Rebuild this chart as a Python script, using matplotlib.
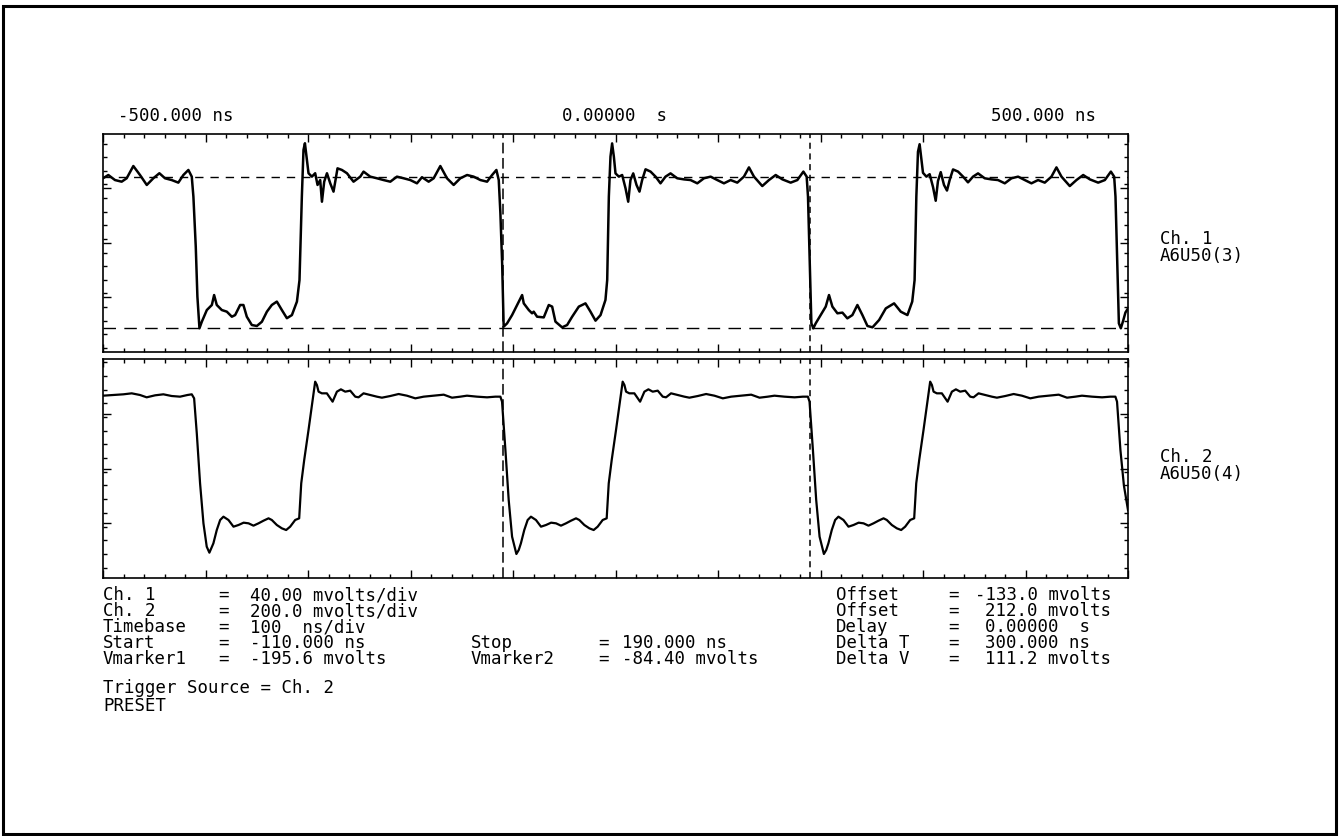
import matplotlib
matplotlib.use("Agg")
import matplotlib.pyplot as plt
from matplotlib.patches import Rectangle
from matplotlib.ticker import MultipleLocator

# ---------------- data ----------------
# Time axis (ns)
t_min, t_max = -500.0, 500.0
top_labels = ["-500.000 ns", "0.00000  s", "500.000 ns"]

# Channel 1 (mV) : 40 mV/div, offset -133 mV, 4 div shown
ch1_center, ch1_div = -133.0, 40.0
ch1_t = [-500.0, -494.8, -488.3, -481.8, -476.9, -470.4, -463.9, -457.3, -450.9, -445.0,
         -439.5, -433.0, -426.5, -421.6, -416.7, -413.4, -411.8, -409.5, -407.9, -405.9,
         -403.6, -398.7, -393.8, -391.6, -389.0, -384.1, -379.2, -374.3, -371.1, -366.2,
         -363.0, -359.7, -354.8, -349.9, -345.0, -340.1, -335.3, -330.4, -325.5, -320.6,
         -315.7, -310.8, -308.3, -306.0, -304.4, -303.0, -301.1, -299.5, -296.2, -293.0,
         -290.7, -288.1, -286.4, -284.2, -281.5, -278.3, -275.1, -271.2, -266.9, -262.0,
         -255.6, -249.0, -245.8, -239.3, -232.7, -226.3, -219.7, -213.2, -206.7, -200.2,
         -193.7, -188.8, -182.3, -177.4, -170.9, -164.4, -157.9, -151.4, -144.8, -138.4,
         -131.8, -125.3, -120.4, -116.2, -113.9, -112.3, -110.6, -109.1,
         -105.8, -100.9, -96.0, -91.1, -89.5, -84.6, -81.4, -79.8, -76.5, -70.0,
         -65.1, -61.8, -58.6, -52.1, -47.2, -42.3, -35.8, -29.3, -24.4, -19.5,
         -14.6, -9.8, -8.1, -6.5, -4.9, -3.3, -1.6, 0.0, 3.3, 6.5,
         9.8, 12.4, 14.6, 17.3, 20.5, 23.4, 26.0, 29.3, 34.2, 39.1,
         43.9, 48.8, 53.7, 60.2, 66.7, 73.2, 79.8, 86.3, 92.8, 99.3,
         105.8, 112.3, 118.8, 125.3, 130.2, 135.1, 143.2, 149.7, 156.3, 162.8,
         170.9, 177.4, 183.3, 186.5, 187.8, 189.5, 191.1, 193.0, 195.3, 200.2,
         205.1, 208.3, 211.6, 216.5, 221.4, 226.2, 231.1, 236.0, 240.9, 245.8,
         250.7, 257.2, 263.7, 271.8, 278.3, 284.8, 289.5, 291.8, 293.5, 295.1,
         296.7, 298.4, 300.0, 303.3, 306.5, 309.8, 312.4, 314.6, 317.3, 320.5,
         323.4, 326.0, 329.3, 334.2, 339.1, 343.9, 348.8, 353.7, 360.2, 366.7,
         373.2, 379.8, 386.3, 392.8, 399.3, 405.8, 412.3, 418.8, 425.3, 430.2,
         435.1, 443.2, 449.7, 456.3, 462.8, 470.9, 477.4, 483.3, 486.5, 487.8,
         489.5, 491.1, 493.0, 495.3, 497.5, 500.0]
ch1_v = [-85.5, -83.1, -86.8, -88.0, -85.5, -76.5, -83.1, -90.4, -85.5, -81.8,
         -85.5, -86.8, -88.7, -83.1, -79.4, -84.3, -99.0, -135.7, -172.4, -195.6,
         -190.8, -182.2, -178.5, -171.2, -178.5, -182.2, -183.4, -187.1, -185.9, -178.5,
         -178.5, -187.1, -193.2, -193.9, -190.8, -183.4, -178.5, -176.0, -182.2, -188.2,
         -185.9, -176.0, -160.2, -99.0, -64.7, -59.8, -72.1, -81.8, -84.3, -81.8,
         -90.4, -86.8, -102.7, -88.0, -81.8, -89.2, -95.3, -78.2, -79.4, -81.8,
         -88.0, -84.3, -80.6, -84.3, -85.5, -86.8, -88.0, -84.3, -85.5, -86.8,
         -89.2, -84.7, -88.0, -85.5, -76.5, -85.5, -90.4, -85.5, -83.1, -84.3,
         -86.8, -88.0, -83.1, -79.4, -86.8, -111.2, -147.9, -194.4,
         -192.0, -185.9, -178.5, -171.2, -177.3, -182.2, -184.6, -183.4, -187.1, -187.6,
         -178.5, -179.7, -190.7, -194.9, -193.2, -187.1, -179.7, -177.3, -183.4, -190.0,
         -185.9, -174.8, -160.2, -99.0, -69.6, -59.9, -69.6, -81.9, -84.3, -83.1,
         -92.9, -102.7, -86.8, -81.9, -90.4, -95.3, -86.8, -78.9, -80.6, -84.3,
         -89.2, -84.3, -81.9, -85.5, -86.3, -86.8, -89.2, -85.5, -84.3, -86.8,
         -89.2, -86.8, -88.7, -84.3, -77.5, -84.3, -91.2, -86.8, -83.1, -86.3,
         -88.7, -86.8, -80.6, -84.3, -99.0, -147.9, -192.0, -195.6, -192.0, -185.9,
         -179.7, -171.2, -179.7, -184.6, -184.1, -188.3, -185.9, -178.5, -185.9, -193.9,
         -194.9, -189.5, -181.0, -177.3, -183.4, -185.9, -176.0, -160.2, -99.0, -66.0,
         -60.5, -71.0, -81.5, -84.3, -82.5, -92.0, -102.0, -87.5, -81.0, -90.4,
         -94.5, -86.8, -79.0, -80.6, -84.3, -88.5, -84.3, -81.9, -85.5, -86.3,
         -86.8, -89.2, -85.5, -84.3, -86.8, -89.2, -86.8, -88.7, -84.3, -77.5,
         -84.3, -91.2, -86.8, -83.1, -86.3, -88.7, -86.8, -80.6, -84.3, -99.0,
         -147.9, -192.0, -195.6, -190.0, -184.0, -181.0]

# Channel 2 (mV) : 200 mV/div, offset 212 mV, 4 div shown
ch2_center, ch2_div = 212.0, 200.0
ch2_t = [-500.0, -490.0, -480.1, -472.0, -463.9, -457.4, -449.2, -441.1, -433.0, -424.8,
         -417.6, -413.4, -411.1, -408.5, -405.3, -402.0, -398.8, -396.2, -392.3, -389.0,
         -385.7, -382.5, -377.6, -372.7, -367.8, -362.8, -358.0, -353.2, -348.3, -343.4,
         -338.5, -335.3, -330.4, -325.5, -321.3, -317.4, -312.5, -308.6, -306.6, -303.7,
         -299.5, -294.6, -293.0, -291.3, -289.7, -286.5, -281.6, -276.0, -271.8, -267.9,
         -263.7, -258.8, -253.9, -250.7, -245.8, -239.3, -232.8, -227.9, -219.7, -211.6,
         -203.5, -195.3, -187.2, -177.4, -167.6, -159.5, -151.4, -144.9, -135.1, -125.3,
         -117.2, -112.3, -110.7, -107.4, -104.2, -100.9, -96.7, -94.4,
         -92.3, -89.0, -85.7, -82.5, -77.6, -72.7, -67.8, -62.8, -58.0, -53.2,
         -48.3, -43.4, -38.5, -35.3, -30.4, -25.5, -21.3, -17.4, -12.5, -8.6,
         -6.6, -3.7, 0.5, 5.4, 7.0, 8.7, 10.3, 13.5, 18.4, 24.0,
         28.2, 32.1, 36.3, 41.2, 46.1, 49.3, 54.2, 60.7, 67.2, 72.1,
         80.3, 88.4, 96.5, 104.7, 112.8, 122.6, 132.4, 140.5, 148.6, 155.1,
         164.9, 174.7, 182.8, 187.7, 189.3, 192.6, 195.8, 199.1, 203.3, 205.6,
         207.7, 211.0, 214.3, 217.5, 222.4, 227.3, 232.2, 237.2, 242.0, 246.8,
         251.7, 256.6, 261.5, 264.7, 269.6, 274.5, 278.7, 282.6, 287.5, 291.4,
         293.4, 296.3, 300.5, 305.4, 307.0, 308.7, 310.3, 313.5, 318.4, 324.0,
         328.2, 332.1, 336.3, 341.2, 346.1, 349.3, 354.2, 360.7, 367.2, 372.1,
         380.3, 388.4, 396.5, 404.7, 412.8, 422.6, 432.4, 440.5, 448.6, 455.1,
         464.9, 474.7, 482.8, 487.7, 489.3, 492.6, 496.0, 500.0]
ch2_v = [478.0, 480.5, 483.0, 486.6, 480.5, 472.0, 479.3, 483.0, 476.8, 474.4,
         480.5, 483.0, 468.3, 340.5, 157.8, 11.7, -73.6, -95.5, -61.4, -12.7,
         23.9, 36.0, 23.9, -0.5, 5.6, 14.1, 11.7, 3.2, 11.7, 21.4,
         30.0, 23.9, 5.6, -6.6, -12.7, -0.5, 23.9, 30.0, 157.8, 243.0,
         352.6, 486.6, 529.2, 517.0, 492.7, 486.6, 486.6, 456.1, 492.7, 501.2,
         492.7, 496.3, 474.4, 472.0, 486.6, 480.5, 474.4, 470.7, 476.8, 484.1,
         478.0, 468.3, 474.4, 478.0, 481.7, 470.7, 474.4, 478.0, 474.4, 472.0,
         474.4, 474.4, 456.1, 279.6, 97.0, -37.0, -100.3, -85.7,
         -61.4, -12.7, 23.9, 36.0, 23.9, -0.5, 5.6, 14.1, 11.7, 3.2,
         11.7, 21.4, 30.0, 23.9, 5.6, -6.6, -12.7, -0.5, 23.9, 30.0,
         157.8, 243.0, 352.6, 486.6, 529.2, 517.0, 492.7, 486.6, 486.6, 456.1,
         492.7, 501.2, 492.7, 496.3, 474.4, 472.0, 486.6, 480.5, 474.4, 470.7,
         476.8, 484.1, 478.0, 468.3, 474.4, 478.0, 481.7, 470.7, 474.4, 478.0,
         474.4, 472.0, 474.4, 474.4, 456.1, 279.6, 97.0, -37.0, -100.3, -85.7,
         -61.4, -12.7, 23.9, 36.0, 23.9, -0.5, 5.6, 14.1, 11.7, 3.2,
         11.7, 21.4, 30.0, 23.9, 5.6, -6.6, -12.7, -0.5, 23.9, 30.0,
         157.8, 243.0, 352.6, 486.6, 529.2, 517.0, 492.7, 486.6, 486.6, 456.1,
         492.7, 501.2, 492.7, 496.3, 474.4, 472.0, 486.6, 480.5, 474.4, 470.7,
         476.8, 484.1, 478.0, 468.3, 474.4, 478.0, 481.7, 470.7, 474.4, 478.0,
         474.4, 472.0, 474.4, 474.4, 456.1, 279.6, 150.0, 60.0]

# Markers
t_start, t_stop = -110.0, 190.0
vmarker1, vmarker2 = -195.6, -84.40

ch_labels = [("Ch. 1", "A6U50(3)"), ("Ch. 2", "A6U50(4)")]
info_left = [("Ch. 1", "=", "40.00 mvolts/div"),
             ("Ch. 2", "=", "200.0 mvolts/div"),
             ("Timebase", "=", "100  ns/div"),
             ("Start", "=", "-110.000 ns"),
             ("Vmarker1", "=", "-195.6 mvolts")]
info_mid = [("Stop", "=", "190.000 ns"),
            ("Vmarker2", "=", "-84.40 mvolts")]
info_right = [("Offset", "=", "-133.0 mvolts"),
              ("Offset", "=", "212.0 mvolts"),
              ("Delay", "=", "0.00000  s"),
              ("Delta T", "=", "300.000 ns"),
              ("Delta V", "=", "111.2 mvolts")]
footer = ["Trigger Source = Ch. 2", "PRESET"]

# ---------------- figure ----------------
W, H = 1344, 836
fig = plt.figure(figsize=(W / 100, H / 100), dpi=100)
FONT = ["DejaVu Sans Mono"]
FS = 12.5

def fx(px):
    return px / W

def fy(py):
    return 1 - py / H

def txt(x, y, s, ha="left"):
    fig.text(fx(x), fy(y), s, ha=ha, va="center", fontsize=FS, family=FONT)

# outer frame
fig.add_artist(Rectangle((fx(3), fy(834)), fx(1336) - fx(3), fy(6) - fy(834),
                         fill=False, lw=2.2, ec="black", transform=fig.transFigure))

x0, x1 = 103, 1128
ax1 = fig.add_axes([fx(x0), fy(352), fx(x1) - fx(x0), fy(134) - fy(352)])
ax2 = fig.add_axes([fx(x0), fy(578), fx(x1) - fx(x0), fy(359) - fy(578)])

for ax, c, d in ((ax1, ch1_center, ch1_div), (ax2, ch2_center, ch2_div)):
    ax.set_xlim(t_min, t_max)
    ax.set_ylim(c - 2 * d, c + 2 * d)
    ax.xaxis.set_major_locator(MultipleLocator(100))
    ax.xaxis.set_minor_locator(MultipleLocator(20))
    ax.set_yticks([c - d, c, c + d])
    ax.yaxis.set_minor_locator(MultipleLocator(d / 4))
    ax.tick_params(which="both", direction="in", top=True, right=True,
                   labelbottom=False, labelleft=False, width=1.0)
    ax.tick_params(which="major", length=6)
    ax.tick_params(which="minor", length=3)
    for s in ax.spines.values():
        s.set_linewidth(1.2)

ax1.plot(ch1_t, ch1_v, color="black", lw=1.8, solid_joinstyle="round")
ax2.plot(ch2_t, ch2_v, color="black", lw=1.6, solid_joinstyle="round")

ax1.axhline(vmarker2, color="black", lw=1.0, dashes=(6, 5))
ax1.axhline(vmarker1, color="black", lw=1.0, dashes=(9, 6))
for ax in (ax1, ax2):
    ax.axvline(t_start, color="black", lw=1.1, dashes=(7, 3))
    ax.axvline(t_stop, color="black", lw=1.1, dashes=(4, 3))

# top time labels
txt(118, 116, top_labels[0])
txt(615, 116, top_labels[1], ha="center")
txt(1096, 116, top_labels[2], ha="right")

# channel labels on the right
for (a, b), yc in zip(ch_labels, (239, 457)):
    txt(1160, yc, a)
    txt(1160, yc + 17, b)

rows = [595, 611, 627, 643, 659]
for (a, e, b), yc in zip(info_left, rows):
    txt(103, yc, a)
    txt(218, yc, e)
    txt(250, yc, b)
for (a, e, b), yc in zip(info_mid, rows[3:]):
    txt(471, yc, a)
    txt(598, yc, e)
    txt(622, yc, b)
for (a, e, b), yc in zip(info_right, rows):
    txt(836, yc, a)
    txt(948, yc, e)
    txt(985 if not b.startswith("-") else 975, yc, b)

txt(103, 688, footer[0])
txt(103, 706, footer[1])

fig.savefig("out.png", dpi=100)
